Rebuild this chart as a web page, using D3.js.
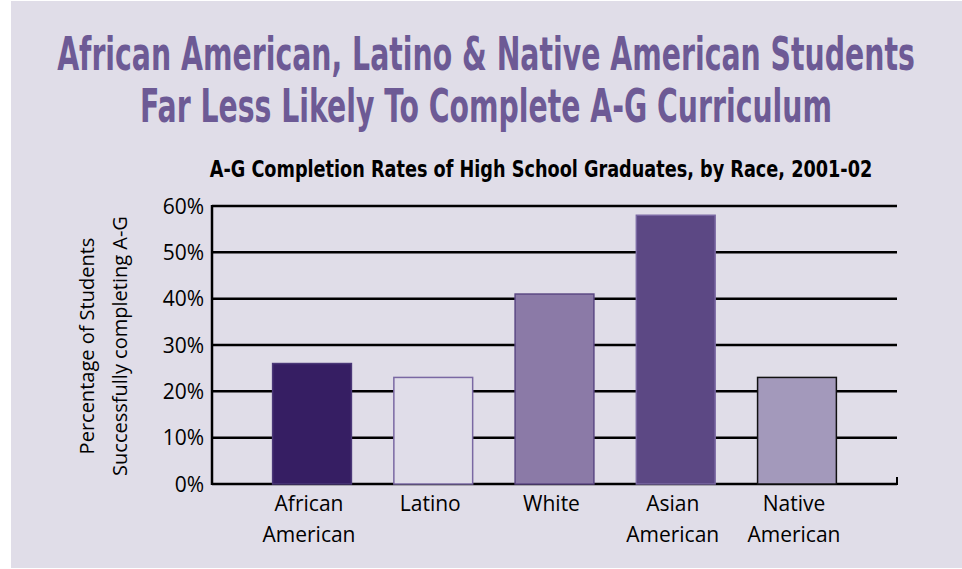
<!DOCTYPE html>
<html>
<head>
<meta charset="utf-8">
<script src="https://cdn.jsdelivr.net/npm/d3@7"></script>
<style>
  body { margin: 0; background: #fff; }
  svg { display: block; }
</style>
</head>
<body>
<div id="chart"></div>
<script>
// chart data
var categories = [["African", "American"], ["Latino"], ["White"], ["Asian", "American"], ["Native", "American"]];
var values = [26, 23, 41, 58, 23];
var yTicks = [0, 10, 20, 30, 40, 50, 60];
var barFills = ["#361e63", "#e0dde9", "#8b7aa7", "#5c4884", "#a399bb"];
var barStrokes = ["#4b3878", "#7a68a3", "#5c4884", "#7a68a3", "#111111"];
var titleLines = ["African American, Latino & Native American Students", "Far Less Likely To Complete A-G Curriculum"];
var subtitle = "A-G Completion Rates of High School Graduates, by Race, 2001-02";
var yTitle = ["Percentage of Students", "Successfully completing A-G"];

var W = 962, H = 569;
var margin = {top: 206, left: 212, right: 65, bottom: 85};
var condensed = "'Liberation Sans Narrow', 'DejaVu Sans Condensed', sans-serif";

var svg = d3.select("#chart").append("svg")
    .attr("width", W)
    .attr("height", H);

// lavender panel
svg.append("rect")
    .attr("x", 11).attr("y", 1)
    .attr("width", W - 11).attr("height", H - 2)
    .attr("fill", "#e0dde8");

// squeeze a text horizontally so it spans the given width
function fitText(sel, cx, cy, width) {
  var w = sel.node().getComputedTextLength();
  sel.attr("transform", "translate(" + cx + "," + cy + ") scale(" + (width / w) + ",1)");
}

// main title
var titleWidths = [858, 692];
titleLines.forEach(function(t, i) {
  var tt = svg.append("text")
      .attr("text-anchor", "middle")
      .style("font-family", condensed)
      .style("font-weight", "bold")
      .style("font-size", "47px")
      .style("fill", "#6d5a95")
      .text(t);
  fitText(tt, 486, 70 + i * 52, titleWidths[i]);
});

var st = svg.append("text")
    .attr("text-anchor", "middle")
    .style("font-family", condensed)
    .style("font-weight", "bold")
    .style("font-size", "23px")
    .style("fill", "#000")
    .text(subtitle);
fitText(st, 541, 177, 663);

var x = d3.scaleBand()
    .domain(d3.range(categories.length))
    .range([margin.left, W - margin.right])
    .paddingInner(0.35)
    .paddingOuter(0.5);

var y = d3.scaleLinear()
    .domain([0, 60])
    .range([H - margin.bottom, margin.top]);

// gridlines
svg.append("g")
  .selectAll("line")
  .data(yTicks)
  .enter().append("line")
    .attr("x1", margin.left)
    .attr("x2", W - margin.right)
    .attr("y1", function(d) { return y(d); })
    .attr("y2", function(d) { return y(d); })
    .attr("stroke", "#000")
    .attr("stroke-width", 2.5);

// y axis line and right end tick
svg.append("line")
    .attr("x1", margin.left).attr("x2", margin.left)
    .attr("y1", y(60) - 1).attr("y2", y(0) + 1)
    .attr("stroke", "#000").attr("stroke-width", 2.5);
svg.append("line")
    .attr("x1", W - margin.right).attr("x2", W - margin.right)
    .attr("y1", y(0) - 7).attr("y2", y(0) + 1)
    .attr("stroke", "#000").attr("stroke-width", 2);

// bars
svg.append("g")
  .selectAll("rect")
  .data(values)
  .enter().append("rect")
    .attr("x", function(d, i) { return x(i); })
    .attr("y", function(d) { return y(d); })
    .attr("width", x.bandwidth())
    .attr("height", function(d) { return y(0) - y(d); })
    .attr("fill", function(d, i) { return barFills[i]; })
    .attr("stroke", function(d, i) { return barStrokes[i]; })
    .attr("stroke-width", 1.5);

// y tick labels
svg.append("g")
  .selectAll("text")
  .data(yTicks)
  .enter().append("text")
    .attr("x", margin.left - 8)
    .attr("y", function(d) { return y(d); })
    .attr("dy", "0.36em")
    .attr("text-anchor", "end")
    .style("font-family", "'Open Sans', sans-serif")
    .style("font-size", "21px")
    .style("fill", "#000")
    .text(function(d) { return d + "%"; });

// category labels
var labels = svg.append("g")
  .selectAll("text")
  .data(categories)
  .enter().append("text")
    .attr("text-anchor", "middle")
    .style("font-family", "'Open Sans', sans-serif")
    .style("font-size", "21px")
    .style("fill", "#000");
labels.selectAll("tspan")
  .data(function(d, i) { return d.map(function(s) { return {s: s, i: i}; }); })
  .enter().append("tspan")
    .attr("x", function(d) { return x(d.i) + x.bandwidth() / 2 - 3; })
    .attr("y", function(d, j) { return 511 + j * 31; })
    .text(function(d) { return d.s; });

// y axis title
var yt = svg.append("text")
    .attr("transform", "translate(0,346) rotate(-90)")
    .attr("text-anchor", "middle")
    .style("font-family", "'Open Sans', sans-serif")
    .style("font-size", "20px")
    .style("fill", "#000");
yTitle.forEach(function(t, i) {
  yt.append("tspan")
      .attr("x", 0)
      .attr("y", 94 + i * 33)
      .text(t);
});
</script>
</body>
</html>
